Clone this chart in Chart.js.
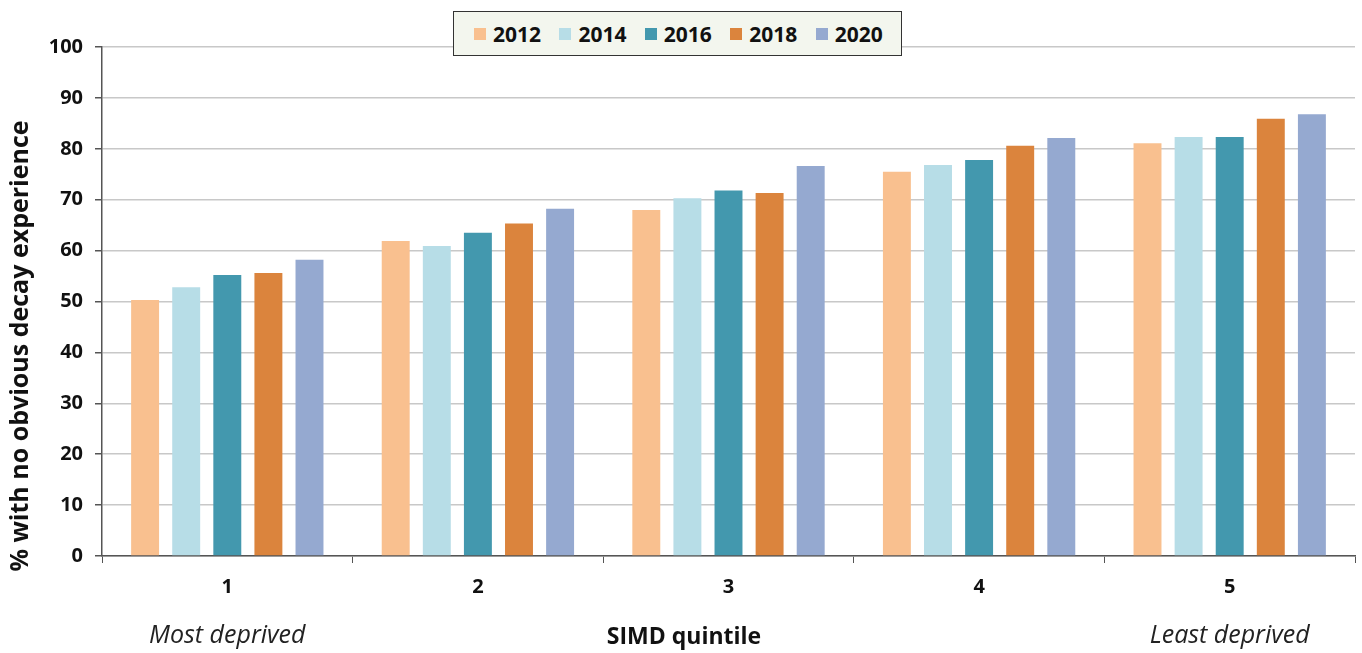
<!DOCTYPE html>
<html>
<head>
<meta charset="utf-8">
<script src="https://cdn.jsdelivr.net/npm/chart.js@4.4.1/dist/chart.umd.min.js"></script>
<style>
  html, body { margin: 0; padding: 0; background: #fff; }
  #wrap { position: relative; width: 1362px; height: 653px; }
  #legenda {
    position: absolute; left: 453px; top: 11px; width: 449px; height: 45px;
    background: #f3f6ee; border: 1.5px solid #333;
    display: flex; align-items: center; padding-left: 20px; box-sizing: border-box;
    font-family: "Open Sans", sans-serif; font-weight: bold; font-size: 21px; color: #111;
  }
  #legenda .item { display: flex; align-items: center; width: 87px; }
  #legenda .cor { width: 12px; height: 12px; margin-right: 7px; }
</style>
</head>
<body>
<div id="wrap">
  <canvas id="grafico" width="1362" height="653"></canvas>
  <div id="legenda"></div>
</div>
<script>
// Dados do gráfico
const quintis = ['1', '2', '3', '4', '5'];
const anos = ['2012', '2014', '2016', '2018', '2020'];
const cores = ['#f9c08f', '#b7dde7', '#4398ae', '#db843d', '#95a9d0'];

const valores2012 = [50.3, 61.9, 68.0, 75.5, 81.1];
const valores2014 = [52.8, 60.9, 70.3, 76.8, 82.3];
const valores2016 = [55.2, 63.5, 71.8, 77.8, 82.3];
const valores2018 = [55.6, 65.3, 71.3, 80.6, 85.9];
const valores2020 = [58.2, 68.2, 76.6, 82.1, 86.8];

const tituloY = '% with no obvious decay experience';
const tituloX = 'SIMD quintile';
const rotuloInicio = 'Most deprived';
const rotuloFim = 'Least deprived';

const series = [valores2012, valores2014, valores2016, valores2018, valores2020];

/**
 * Legenda em HTML
 */
const legenda = document.getElementById('legenda');
anos.forEach(function(ano, i) {
  const item = document.createElement('div');
  item.className = 'item';
  item.innerHTML = '<span class="cor" style="background:' + cores[i] + '"></span>' + ano;
  legenda.appendChild(item);
});

/**
 * Textos extras: título do eixo Y e rótulos abaixo do eixo X
 */
const textosExtras = {
  id: 'textosExtras',
  afterDraw(chart) {
    const ctx = chart.ctx;
    const x = chart.scales.x;
    ctx.save();
    ctx.fillStyle = '#111';
    ctx.textBaseline = 'middle';
    ctx.textAlign = 'center';

    // título do eixo Y
    ctx.save();
    ctx.translate(21, 346);
    ctx.rotate(-Math.PI / 2);
    ctx.font = 'bold 25px "Open Sans", sans-serif';
    ctx.fillText(tituloY, 0, 0);
    ctx.restore();

    ctx.font = 'bold 23px "Open Sans", sans-serif';
    ctx.fillText(tituloX, 684, 637);

    ctx.font = 'italic 25px "Open Sans", sans-serif';
    ctx.fillStyle = '#222';
    ctx.fillText(rotuloInicio, x.getPixelForValue(0), 636);
    ctx.fillText(rotuloFim, x.getPixelForValue(quintis.length - 1), 636);
    ctx.restore();
  }
};

new Chart(document.getElementById('grafico'), {
  type: 'bar',
  data: {
    labels: quintis,
    datasets: anos.map(function(ano, i) {
      return {
        label: ano,
        data: series[i],
        backgroundColor: cores[i],
        categoryPercentage: 0.82,
        barPercentage: 0.68
      };
    })
  },
  options: {
    responsive: false,
    animation: false,
    layout: { padding: { top: 47, right: 7, left: 0, bottom: 0 } },
    plugins: {
      legend: { display: false },
      tooltip: { enabled: false }
    },
    scales: {
      x: {
        grid: { drawOnChartArea: false, tickLength: 7, tickColor: '#555', offset: true },
        border: { color: '#555', width: 1.5 },
        ticks: {
          color: '#111',
          padding: 12,
          font: { family: '"Open Sans", sans-serif', weight: 'bold', size: 20 }
        },
        afterFit(scale) { scale.height = 97; }
      },
      y: {
        min: 0,
        max: 100,
        ticks: {
          stepSize: 10,
          color: '#111',
          padding: 12,
          font: { family: '"Open Sans", sans-serif', weight: 'bold', size: 20 }
        },
        grid: { color: '#c8c8c8', lineWidth: 1.5, tickLength: 7, tickColor: '#555' },
        border: { color: '#555', width: 1.5 },
        afterFit(scale) { scale.width = 102; }
      }
    }
  },
  plugins: [textosExtras]
});
</script>
</body>
</html>
